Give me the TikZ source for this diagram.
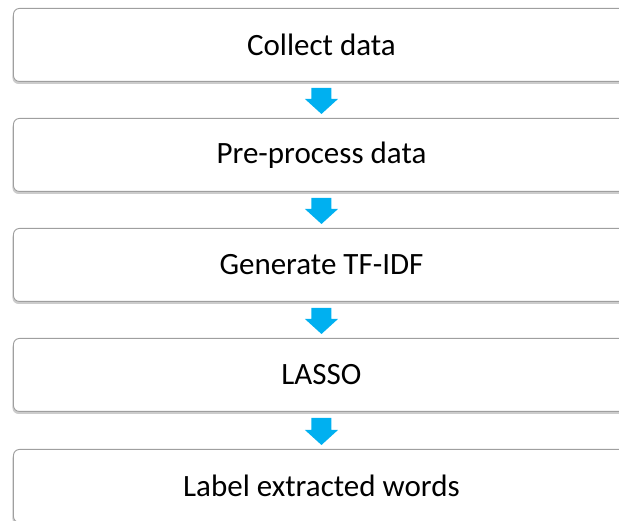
\documentclass[tikz,border=0pt]{standalone}
\usepackage{fontspec}
\setmainfont{Carlito}
\usetikzlibrary{shadows,calc}
\definecolor{arrblue}{RGB}{0,176,240}
\begin{document}
\begin{tikzpicture}[x=1pt,y=-1pt,
  stepbox/.style={draw=gray!75, line width=0.9pt, rounded corners=6pt, fill=white,
    minimum width=616pt, minimum height=73pt, anchor=north west, inner sep=0pt,
    font=\fontsize{31}{36}\selectfont, text=black,
    drop shadow={shadow xshift=-1pt, shadow yshift=-2.5pt, opacity=0.4, fill=gray}},
  arrowfill/.style={fill=arrblue, draw=none}]
\useasboundingbox (0,0) rectangle (619,521);
\node[stepbox] (a) at (13,8) {Collect data};
\node[stepbox] (b) at (13,118) {Pre-process data};
\node[stepbox] (c) at (13,228) {Generate TF-IDF};
\node[stepbox] (d) at (13,338) {LASSO};
\node[stepbox] (e) at (13,449) {Label extracted words};
\foreach \p/\q in {a/b,b/c,c/d,d/e}{
  \fill[arrowfill] ($(\p.south)+(-10,6)$) -- ($(\p.south)+(10,6)$)
     -- ($(\q.north)+(10,-19)$) -- ($(\q.north)+(16.5,-19)$)
     -- ($(\q.north)+(0,-4)$) -- ($(\q.north)+(-16.5,-19)$)
     -- ($(\q.north)+(-10,-19)$) -- cycle;
}
\end{tikzpicture}
\end{document}
